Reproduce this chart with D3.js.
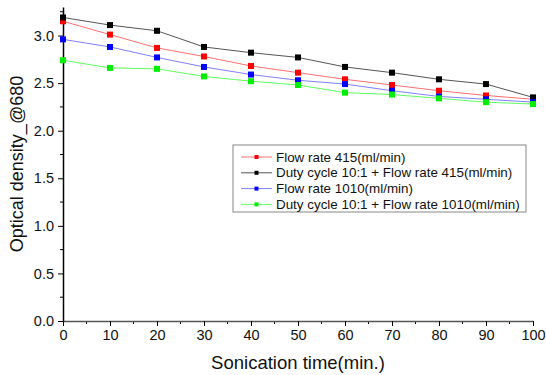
<!DOCTYPE html>
<html>
<head>
<meta charset="utf-8">
<script src="https://cdn.jsdelivr.net/npm/d3@7"></script>
<style>
  body { margin: 0; background: #fff; }
  text { font-family: "Liberation Sans", Arial, sans-serif; fill: #111; }
</style>
</head>
<body>
<div id="chart"></div>
<script>
var times = [0, 10, 20, 30, 40, 50, 60, 70, 80, 90, 100];

var flow415 = [3.15, 3.01, 2.87, 2.78, 2.68, 2.61, 2.54, 2.48, 2.42, 2.37, 2.33];
var duty415 = [3.19, 3.11, 3.05, 2.88, 2.82, 2.77, 2.67, 2.61, 2.54, 2.49, 2.35];
var flow1010 = [2.96, 2.88, 2.77, 2.67, 2.59, 2.53, 2.49, 2.42, 2.36, 2.33, 2.30];
var duty1010 = [2.74, 2.66, 2.65, 2.57, 2.52, 2.48, 2.40, 2.38, 2.34, 2.30, 2.28];

var seriesNames = [
  "Flow rate 415(ml/min)",
  "Duty cycle 10:1 + Flow rate 415(ml/min)",
  "Flow rate 1010(ml/min)",
  "Duty cycle 10:1 + Flow rate 1010(ml/min)"
];
var xTicks = [0, 10, 20, 30, 40, 50, 60, 70, 80, 90, 100];
var yTicks = [0.0, 0.5, 1.0, 1.5, 2.0, 2.5, 3.0];

var svgWidth = 546;
var svgHeight = 375;

var margin = { top: 7, right: 13, bottom: 54, left: 63 };
var width = svgWidth - margin.left - margin.right;
var height = svgHeight - margin.top - margin.bottom;

var series = [
  { name: seriesNames[0], values: flow415, color: "#ff0000", line: "#ff7070" },
  { name: seriesNames[1], values: duty415, color: "#000000", line: "#555555" },
  { name: seriesNames[2], values: flow1010, color: "#0000ff", line: "#8080ff" },
  { name: seriesNames[3], values: duty1010, color: "#00ee00", line: "#60ff60" }
];

var svg = d3.select("#chart")
  .append("svg")
  .attr("width", svgWidth)
  .attr("height", svgHeight);

var chartGroup = svg.append("g")
  .attr("transform", `translate(${margin.left}, ${margin.top})`);

var xScale = d3.scaleLinear().domain([0, 100]).range([0, width]);
var yScale = d3.scaleLinear().domain([0, 3.3]).range([height, 0]);

// minor ticks
var xMinor = d3.range(5, 100, 10);
var yMinor = d3.range(0.25, 3.3, 0.5);

chartGroup.append("g")
  .attr("transform", `translate(0, ${height})`)
  .selectAll("line")
  .data(xMinor)
  .enter()
  .append("line")
  .attr("x1", d => xScale(d))
  .attr("x2", d => xScale(d))
  .attr("y1", 0)
  .attr("y2", 3)
  .attr("stroke", "#000");

chartGroup.append("g")
  .selectAll("line")
  .data(yMinor)
  .enter()
  .append("line")
  .attr("x1", 0)
  .attr("x2", -3)
  .attr("y1", d => yScale(d))
  .attr("y2", d => yScale(d))
  .attr("stroke", "#000");

var xAxis = d3.axisBottom(xScale).tickValues(xTicks).tickSize(5).tickSizeOuter(0).tickPadding(4);
var yAxis = d3.axisLeft(yScale).tickValues(yTicks).tickFormat(d3.format(".1f")).tickSize(5).tickSizeOuter(0).tickPadding(4);

var gx = chartGroup.append("g")
  .attr("transform", `translate(0, ${height})`)
  .call(xAxis);
gx.select(".domain").attr("stroke", "#555").attr("stroke-width", 1.5);
gx.selectAll("text").attr("font-size", "14.5px").attr("fill", "#111");

var gy = chartGroup.append("g")
  .call(yAxis);
gy.select(".domain").attr("stroke", "#000").attr("stroke-width", 1.5);
gy.selectAll("text").attr("font-size", "14.5px").attr("fill", "#111");

var line = d3.line()
  .x((d, i) => xScale(times[i]))
  .y(d => yScale(d));

series.forEach(s => {
  chartGroup.append("path")
    .datum(s.values)
    .attr("fill", "none")
    .attr("stroke", s.line)
    .attr("stroke-width", 1)
    .attr("d", line);
});

series.forEach(s => {
  chartGroup.selectAll(null)
    .data(s.values)
    .enter()
    .append("rect")
    .attr("x", (d, i) => xScale(times[i]) - 3)
    .attr("y", d => yScale(d) - 3)
    .attr("width", 6)
    .attr("height", 6)
    .attr("fill", s.color);
});

// axis titles
svg.append("text")
  .attr("x", margin.left + xScale(50))
  .attr("y", 369)
  .attr("text-anchor", "middle")
  .attr("font-size", "18.5px")
  .text("Sonication time(min.)");

svg.append("text")
  .attr("transform", `translate(23, ${margin.top + yScale(1.65)}) rotate(-90)`)
  .attr("text-anchor", "middle")
  .attr("font-size", "18px")
  .text("Optical density_@680");

// legend
var legend = svg.append("g")
  .attr("transform", "translate(233, 145)");

legend.append("rect")
  .attr("width", 293)
  .attr("height", 67)
  .attr("fill", "#fff")
  .attr("stroke", "#888")
  .attr("stroke-width", 1);

series.forEach((s, i) => {
  var yy = 12 + i * 15.8;
  legend.append("line")
    .attr("x1", 8)
    .attr("x2", 39)
    .attr("y1", yy)
    .attr("y2", yy)
    .attr("stroke", s.line)
    .attr("stroke-width", 1);
  legend.append("rect")
    .attr("x", 21.5)
    .attr("y", yy - 2)
    .attr("width", 4)
    .attr("height", 4)
    .attr("fill", s.color);
  legend.append("text")
    .attr("x", 43)
    .attr("y", yy + 4.5)
    .attr("font-size", "13.4px")
    .text(s.name);
});
</script>
</body>
</html>
